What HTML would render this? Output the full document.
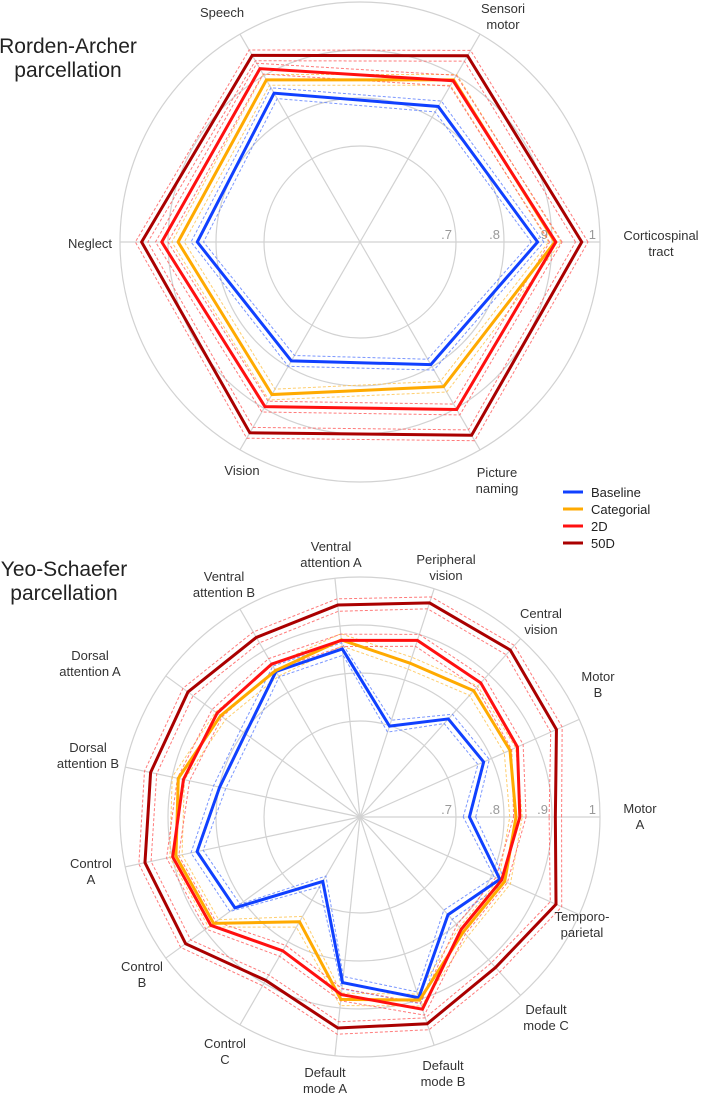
<!DOCTYPE html>
<html><head><meta charset="utf-8"><style>
html,body{margin:0;padding:0;background:#fff;}
svg{display:block;font-family:"Liberation Sans",sans-serif;}
</style></head><body>
<svg id="chart" width="703" height="1095" viewBox="0 0 703 1095" xmlns="http://www.w3.org/2000/svg">
<text x="68" y="53" font-size="21" fill="#222" text-anchor="middle">Rorden-Archer</text>
<text x="68" y="77" font-size="21" fill="#222" text-anchor="middle">parcellation</text>
<text x="64" y="576" font-size="21" fill="#222" text-anchor="middle">Yeo-Schaefer</text>
<text x="64" y="600" font-size="21" fill="#222" text-anchor="middle">parcellation</text>
<g id="legend"></g>
</svg>
<script>
const seriesNames = ["Baseline","Categorial","2D","50D"];
const seriesColors = ["#1040ff","#ffaa00","#ff1010","#aa0000"];
const ciColors = ["#5a7dff","#ffc24a","#ff5a5a","#ff5a5a"];
const tickValues = [0.7,0.8,0.9,1.0];
const tickLabels = [".7",".8",".9","1"];
const ciHalf = 0.013;

// Chart 1: Rorden-Archer (angles start right, counterclockwise)
const raCategories = ["Corticospinal tract","Sensori motor","Speech","Neglect","Vision","Picture naming"];
const raBaseline   = [0.870,0.826,0.858,0.839,0.786,0.795];
const raCategorial = [0.906,0.890,0.890,0.879,0.867,0.848];
const ra2D         = [0.908,0.888,0.917,0.913,0.896,0.903];
const ra50D        = [0.962,0.948,0.949,0.955,0.959,0.965];

// Chart 2: Yeo-Schaefer
const ysCategories = ["Motor A","Motor B","Central vision","Peripheral vision","Ventral attention A","Ventral attention B","Dorsal attention A","Dorsal attention B","Control A","Control B","Control C","Default mode A","Default mode B","Default mode C","Temporo-parietal"];
const ysBaseline   = [0.728,0.782,0.775,0.699,0.852,0.850,0.795,0.799,0.847,0.822,0.655,0.847,0.896,0.774,0.819];
const ysCategorial = [0.825,0.842,0.854,0.837,0.871,0.852,0.859,0.887,0.892,0.877,0.752,0.882,0.901,0.822,0.830];
const ys2D         = [0.833,0.859,0.876,0.887,0.870,0.868,0.868,0.876,0.899,0.884,0.822,0.872,0.921,0.815,0.823];
const ys50D        = [0.907,0.948,0.968,0.969,0.944,0.932,0.943,0.946,0.958,0.949,0.893,0.942,0.953,0.922,0.947];

const NS = "http://www.w3.org/2000/svg";
const svg = document.getElementById("chart");
function mk(tag, attrs, parent){
  const e = document.createElementNS(NS, tag);
  for (const k in attrs) e.setAttribute(k, attrs[k]);
  (parent||svg).appendChild(e);
  return e;
}
const VMIN = 0.5, RMAX = 240;
function rScale(v){ return (v - VMIN) / (1 - VMIN) * RMAX; }
function pt(cx, cy, i, n, v){
  const a = 2*Math.PI*i/n;
  const r = rScale(v);
  return [cx + r*Math.cos(a), cy - r*Math.sin(a)];
}

function drawRadar(prefix, cx, cy, cats, series, labelPos){
  const g = mk("g", {});
  
  
  const n = cats.length;
  tickValues.forEach((t, k) => {
    const c = mk("circle", {cx:cx, cy:cy, r:rScale(t), fill:"none", stroke:"#d2d2d2", "stroke-width":1.2}, g);
    
    
    const tl = mk("text", {x:cx + rScale(t) - 4, y:cy - 3, "font-size":13, fill:"#999", "text-anchor":"end"}, g);
    
    
    tl.textContent = tickLabels[k];
  });
  for (let i = 0; i < n; i++){
    const p = pt(cx, cy, i, n, 1.0);
    const s = mk("line", {x1:cx, y1:cy, x2:p[0], y2:p[1], stroke:"#d2d2d2", "stroke-width":1.2}, g);
    
    
  }
  series.forEach((vals, si) => {
    [-ciHalf, ciHalf].forEach(off => {
      const d = vals.map((v, i) => pt(cx, cy, i, n, v + off).join(",")).join(" ");
      const c = mk("polygon", {points:d, fill:"none", stroke:ciColors[si], "stroke-width":1, "stroke-dasharray":"3,2", opacity:0.8}, g);
      
      
    });
  });
  series.forEach((vals, si) => {
    const d = vals.map((v, i) => pt(cx, cy, i, n, v).join(",")).join(" ");
    const l = mk("polygon", {points:d, fill:"none", stroke:seriesColors[si], "stroke-width":3, "stroke-linejoin":"miter"}, g);
    
    
  });
  cats.forEach((c, i) => {
    const lp = labelPos[i];
    const t = mk("text", {x:lp[0], y:lp[1], "font-size":13, fill:"#333", "text-anchor":"middle"}, g);
    
    
    lp[2].forEach((line, j) => {
      const ts = mk("tspan", {x:lp[0], dy: j === 0 ? 0 : 16}, t);
      ts.textContent = line;
    });
  });
}

drawRadar("rorden-archer", 360, 242,
  raCategories,
  [raBaseline, raCategorial, ra2D, ra50D],
  [[661,240,["Corticospinal","tract"]],[503,13,["Sensori","motor"]],[222,17,["Speech"]],
   [90,248,["Neglect"]],[242,475,["Vision"]],[497,477,["Picture","naming"]]]);

drawRadar("yeo-schaefer", 360, 817,
  ysCategories,
  [ysBaseline, ysCategorial, ys2D, ys50D],
  [[640,813,["Motor","A"]],[598,681,["Motor","B"]],[541,618,["Central","vision"]],
   [446,564,["Peripheral","vision"]],[331,551,["Ventral","attention A"]],[224,581,["Ventral","attention B"]],
   [90,660,["Dorsal","attention A"]],[88,752,["Dorsal","attention B"]],[91,868,["Control","A"]],
   [142,971,["Control","B"]],[225,1048,["Control","C"]],[325,1077,["Default","mode A"]],
   [443,1070,["Default","mode B"]],[546,1014,["Default","mode C"]],[582,921,["Temporo-","parietal"]]]);

const lg = document.getElementById("legend");
svg.appendChild(lg);
seriesNames.forEach((nm, i) => {
  const y = 492 + i*17;
  const l = mk("line", {x1:563, y1:y, x2:583, y2:y, stroke:seriesColors[i], "stroke-width":3}, lg);
  
  
  const t = mk("text", {x:591, y:y+5, "font-size":13, fill:"#222"}, lg);
  
  
  t.textContent = nm;
});
</script>
</body></html>
